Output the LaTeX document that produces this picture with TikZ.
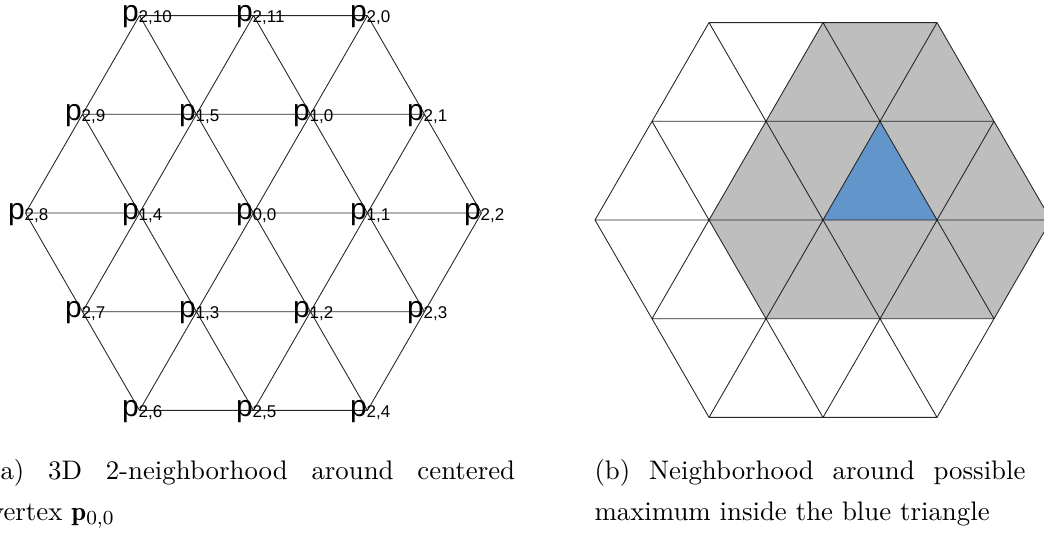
\documentclass[tikz,border=0pt]{standalone}
\usepackage{fontspec}
\newfontfamily\labfont{Liberation Sans}
\definecolor{greyfill}{RGB}{190,190,190}
\definecolor{trifill}{RGB}{98,149,201}
\newcommand\mkhex[3]{%
  \coordinate (#100) at (#2,#3);
  \coordinate (#110) at (#2+57,#3-98.7);
  \coordinate (#111) at (#2+114,#3);
  \coordinate (#112) at (#2+57,#3+98.7);
  \coordinate (#113) at (#2-57,#3+98.7);
  \coordinate (#114) at (#2-114,#3);
  \coordinate (#115) at (#2-57,#3-98.7);
  \coordinate (#120) at (#2+114,#3-197.4);
  \coordinate (#121) at (#2+171,#3-98.7);
  \coordinate (#122) at (#2+228,#3);
  \coordinate (#123) at (#2+171,#3+98.7);
  \coordinate (#124) at (#2+114,#3+197.4);
  \coordinate (#125) at (#2,#3+197.4);
  \coordinate (#126) at (#2-114,#3+197.4);
  \coordinate (#127) at (#2-171,#3+98.7);
  \coordinate (#128) at (#2-228,#3);
  \coordinate (#129) at (#2-171,#3-98.7);
  \coordinate (#1210) at (#2-114,#3-197.4);
  \coordinate (#1211) at (#2,#3-197.4);
}
\newcommand\hexgrid[1]{%
  \draw[gridline] (#1210)--(#120) (#129)--(#121) (#128)--(#122) (#127)--(#123) (#126)--(#124)
    (#128)--(#1210) (#127)--(#1211) (#126)--(#120) (#125)--(#121) (#124)--(#122)
    (#1210)--(#124) (#129)--(#125) (#128)--(#126) (#1211)--(#123) (#120)--(#122);
}
\newcommand\sublab[1]{\raisebox{-0.5pt}{\fontsize{6.8}{6.8}\selectfont #1}}
\begin{document}
\begin{tikzpicture}[x=0.4pt,y=-0.4pt,
  gridline/.style={line width=0.35pt, draw=black!85},
  lbl/.style={inner sep=0pt, anchor=base west, font=\labfont\fontsize{12}{12}\selectfont},
  captext/.style={inner sep=0pt, anchor=base west, font=\fontsize{10.73}{13}\selectfont}]
\useasboundingbox (0,0) rectangle (1044,533);
\clip (0,0) rectangle (1044,533);
% left figure
\mkhex{p}{253.5}{213}
\hexgrid{p}
\foreach \n/\t in {00/{0,0},10/{1,0},11/{1,1},12/{1,2},13/{1,3},14/{1,4},15/{1,5},
  20/{2,0},21/{2,1},22/{2,2},23/{2,3},24/{2,4},25/{2,5},26/{2,6},27/{2,7},28/{2,8},29/{2,9},210/{2,10},211/{2,11}}
  \node[lbl] (lp\n) at ([shift={(-18,6)}]p\n) {p\sublab{\t}};
% right figure
\mkhex{q}{823}{220}
\fill[greyfill] (q15)--(q211)--(q20)--(q21)--(q22)--(q23)--(q13)--(q14)--cycle;
\fill[trifill] (q10)--(q00)--(q11)--cycle;
\hexgrid{q}
% captions
\node[captext] (capa1) at (-10.4,479) {\makebox[210pt][s]{(a) 3D 2-neighborhood around centered}};
\node[captext] (capa2) at (-10.4,520) {vertex $\mathbf{p}_{0,0}$};
\node[captext] (capb1) at (594,479) {\makebox[172.4pt][s]{(b) Neighborhood around possible}};
\node[captext] (capb2) at (594,520) {maximum inside the blue triangle};
\end{tikzpicture}
\end{document}
